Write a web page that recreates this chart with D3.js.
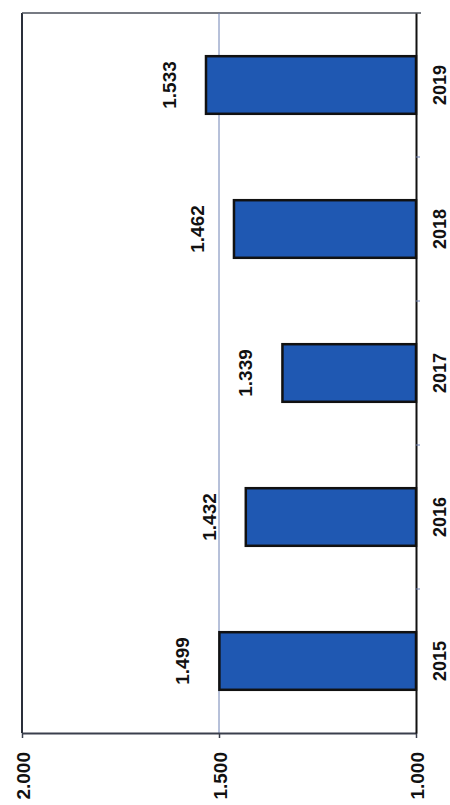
<!DOCTYPE html>
<html>
<head>
<meta charset="utf-8">
<script src="https://cdn.jsdelivr.net/npm/d3@7"></script>
<style>
	body{margin:0;background:#fff;}
	svg{display:block;}
	text{font-family:"Liberation Sans",Arial,sans-serif;font-weight:bold;fill:#111;}
</style>
</head>
<body>
<div id="chart"></div>
<script>
// values as printed on the bars
var years = ["2015", "2016", "2017", "2018", "2019"];
var values = [1.499, 1.432, 1.339, 1.462, 1.533];
var valueTicks = [1.0, 1.5, 2.0];

var W = 450, H = 805;
// (window.top is read-only, so plot edges get their own names)
var plotL = 22, plotR = 416, plotT = 13, plotB = 733;

var svg = d3.select("#chart").append("svg")
	.attr("width", W)
	.attr("height", H);

// chart is turned a quarter: value runs right->left, years bottom->top
var x = d3.scaleLinear().domain([1, 2]).range([plotR, plotL]);
var y = d3.scaleBand().domain(years).range([plotB, plotT])
	.paddingInner(0.6).paddingOuter(0.3);

// plot frame (left + top)
svg.append("line")
	.attr("x1", plotL).attr("x2", plotL)
	.attr("y1", plotT).attr("y2", plotB)
	.attr("stroke", "#2a2f3a").attr("stroke-width", 2);
svg.append("line")
	.attr("x1", plotL).attr("x2", plotR + 5)
	.attr("y1", plotT).attr("y2", plotT)
	.attr("stroke", "#4a4f5a").attr("stroke-width", 1.5);

// grid
svg.append("g").selectAll("line")
	.data(valueTicks.filter(function(d){ return d > 1 && d < 2; }))
	.enter().append("line")
	.attr("x1", function(d){ return x(d); })
	.attr("x2", function(d){ return x(d); })
	.attr("y1", plotT).attr("y2", plotB)
	.attr("stroke", "#6f82b4").attr("stroke-width", 1);

// value axis along the bottom
var xAxis = svg.append("g")
	.attr("transform", "translate(0," + plotB + ")")
	.call(d3.axisBottom(x).tickValues(valueTicks)
		.tickFormat(d3.format(".3f")).tickSize(5).tickSizeOuter(0));
xAxis.select(".domain").attr("stroke", "#3a3f4c").attr("stroke-width", 2);
xAxis.selectAll(".tick line").attr("stroke", "#3a3f4c").attr("stroke-width", 1.5);
xAxis.selectAll(".tick text")
	.attr("transform", "rotate(-90)")
	.attr("x", -19).attr("y", 0).attr("dy", "0.38em")
	.attr("text-anchor", "end")
	.style("font-size", "19px").style("fill", "#111");

// bars
svg.append("g").selectAll("rect")
	.data(years)
	.enter().append("rect")
	.attr("x", function(d, i){ return x(values[i]); })
	.attr("width", function(d, i){ return x(1) - x(values[i]); })
	.attr("y", function(d){ return y(d); })
	.attr("height", y.bandwidth())
	.attr("fill", "#1f58b2")
	.attr("stroke", "#111")
	.attr("stroke-width", 2.5);

// value labels
svg.append("g").selectAll("text")
	.data(years)
	.enter().append("text")
	.attr("transform", function(d, i){
		return "translate(" + (x(values[i]) - 37) + "," + (y(d) + y.bandwidth() / 2) + ") rotate(-90)";
	})
	.attr("text-anchor", "middle")
	.attr("dy", "0.36em")
	.style("font-size", "19px")
	.text(function(d, i){ return d3.format(".3f")(values[i]); });

// category axis on the right
var yAxis = svg.append("g")
	.attr("transform", "translate(" + plotR + ",0)")
	.call(d3.axisRight(y).tickSize(0).tickSizeOuter(0));
yAxis.select(".domain").attr("stroke", "#111").attr("stroke-width", 2);
yAxis.selectAll(".tick text")
	.attr("transform", "rotate(-90)")
	.attr("x", 0).attr("y", 24).attr("dy", "0.36em")
	.attr("text-anchor", "middle")
	.style("font-size", "18px").style("fill", "#111");

// little marks between the categories
var step = y.step();
svg.append("g").selectAll("line")
	.data(years.slice(1))
	.enter().append("line")
	.attr("x1", plotR).attr("x2", plotR + 4)
	.attr("y1", function(d){ return y(d) + y.bandwidth() + step * 0.3; })
	.attr("y2", function(d){ return y(d) + y.bandwidth() + step * 0.3; })
	.attr("stroke", "#6f82b4").attr("stroke-width", 1);
</script>
</body>
</html>
